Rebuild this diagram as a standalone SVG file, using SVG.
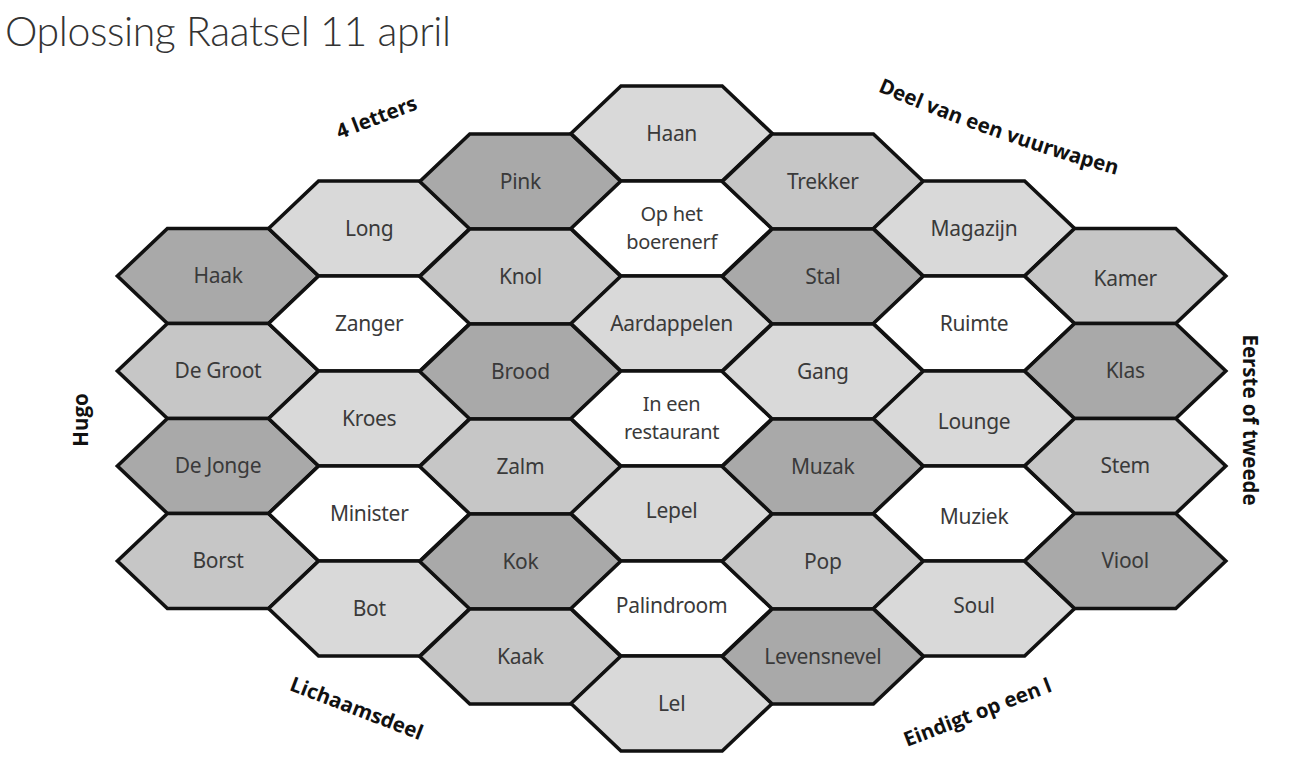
<svg xmlns="http://www.w3.org/2000/svg" width="1306" height="763" viewBox="0 0 1306 763">
<style>
.hex{stroke:#111;stroke-width:3.6;stroke-linejoin:miter}
.d{fill:#a9a9a9}
.m{fill:#c6c6c6}
.l{fill:#d9d9d9}
.w{fill:#ffffff}
.t{font-family:"Noto Sans","Open Sans",sans-serif;font-size:21px;fill:#3a3a3a;text-anchor:middle;letter-spacing:-0.3px}
.t2{font-size:20px}
.c{font-family:"Open Sans","Noto Sans",sans-serif;font-weight:bold;font-size:20.5px;fill:#111;text-anchor:middle}
.title{font-family:Lato,"Liberation Sans",sans-serif;font-weight:300;font-size:41px;fill:#333;letter-spacing:-0.4px}
</style>
<defs>
<polygon id="hx" points="-100.6,0 -50.6,-47.5 50.6,-47.5 100.6,0 50.6,47.5 -50.6,47.5"/>
<path id="arcTop" d="M 877 91 Q 990 140 1117 175"/>
</defs>
<rect width="1306" height="763" fill="#fff"/>
<text class="title" x="5" y="46">Oplossing Raatsel 11 april</text>

<!-- column 0 -->
<g id="haak" transform="translate(218,276)"><use href="#hx" class="hex d"/><text class="t" y="7">Haak</text></g>
<g id="degroot" transform="translate(218,371)"><use href="#hx" class="hex m"/><text class="t" y="7">De Groot</text></g>
<g id="dejonge" transform="translate(218,466)"><use href="#hx" class="hex d"/><text class="t" y="7">De Jonge</text></g>
<g id="borst" transform="translate(218,561)"><use href="#hx" class="hex m"/><text class="t" y="7">Borst</text></g>

<!-- column 1 -->
<g id="long" transform="translate(369.2,228.5)"><use href="#hx" class="hex l"/><text class="t" y="7">Long</text></g>
<g id="zanger" transform="translate(369.2,323.5)"><use href="#hx" class="hex w"/><text class="t" y="7">Zanger</text></g>
<g id="kroes" transform="translate(369.2,418.5)"><use href="#hx" class="hex l"/><text class="t" y="7">Kroes</text></g>
<g id="minister" transform="translate(369.2,513.5)"><use href="#hx" class="hex w"/><text class="t" y="7">Minister</text></g>
<g id="bot" transform="translate(369.2,608.5)"><use href="#hx" class="hex l"/><text class="t" y="7">Bot</text></g>

<!-- column 2 -->
<g id="pink" transform="translate(520.4,181.5)"><use href="#hx" class="hex d"/><text class="t" y="7">Pink</text></g>
<g id="knol" transform="translate(520.4,276.5)"><use href="#hx" class="hex m"/><text class="t" y="7">Knol</text></g>
<g id="brood" transform="translate(520.4,371.5)"><use href="#hx" class="hex d"/><text class="t" y="7">Brood</text></g>
<g id="zalm" transform="translate(520.4,466.5)"><use href="#hx" class="hex m"/><text class="t" y="7">Zalm</text></g>
<g id="kok" transform="translate(520.4,561.5)"><use href="#hx" class="hex d"/><text class="t" y="7">Kok</text></g>
<g id="kaak" transform="translate(520.4,656.5)"><use href="#hx" class="hex m"/><text class="t" y="7">Kaak</text></g>

<!-- column 3 -->
<g id="haan" transform="translate(671.6,133.5)"><use href="#hx" class="hex l"/><text class="t" y="7">Haan</text></g>
<g id="boerenerf" transform="translate(671.6,228.5)"><use href="#hx" class="hex w"/><text class="t t2" y="-7.5"><tspan x="0">Op het</tspan><tspan x="0" dy="27.5">boerenerf</tspan></text></g>
<g id="aardappelen" transform="translate(671.6,323.5)"><use href="#hx" class="hex l"/><text class="t" y="7">Aardappelen</text></g>
<g id="restaurant" transform="translate(671.6,418.5)"><use href="#hx" class="hex w"/><text class="t t2" y="-7.5"><tspan x="0">In een</tspan><tspan x="0" dy="27.5">restaurant</tspan></text></g>
<g id="lepel" transform="translate(671.6,513.5)"><use href="#hx" class="hex l"/><text class="t" y="4">Lepel</text></g>
<g id="palindroom" transform="translate(671.6,608.5)"><use href="#hx" class="hex w"/><text class="t" y="4">Palindroom</text></g>
<g id="lel" transform="translate(671.6,703.5)"><use href="#hx" class="hex l"/><text class="t" y="7">Lel</text></g>

<!-- column 4 -->
<g id="trekker" transform="translate(822.8,181.5)"><use href="#hx" class="hex m"/><text class="t" y="7">Trekker</text></g>
<g id="stal" transform="translate(822.8,276.5)"><use href="#hx" class="hex d"/><text class="t" y="7">Stal</text></g>
<g id="gang" transform="translate(822.8,371.5)"><use href="#hx" class="hex l"/><text class="t" y="7">Gang</text></g>
<g id="muzak" transform="translate(822.8,466.5)"><use href="#hx" class="hex d"/><text class="t" y="7">Muzak</text></g>
<g id="pop" transform="translate(822.8,561.5)"><use href="#hx" class="hex m"/><text class="t" y="7">Pop</text></g>
<g id="levensnevel" transform="translate(822.8,656.5)"><use href="#hx" class="hex d"/><text class="t" y="7">Levensnevel</text></g>

<!-- column 5 -->
<g id="magazijn" transform="translate(974,228.5)"><use href="#hx" class="hex l"/><text class="t" y="7">Magazijn</text></g>
<g id="ruimte" transform="translate(974,323.5)"><use href="#hx" class="hex w"/><text class="t" y="7">Ruimte</text></g>
<g id="lounge" transform="translate(974,418.5)"><use href="#hx" class="hex l"/><text class="t" y="10">Lounge</text></g>
<g id="muziek" transform="translate(974,513.5)"><use href="#hx" class="hex w"/><text class="t" y="10">Muziek</text></g>
<g id="soul" transform="translate(974,608.5)"><use href="#hx" class="hex l"/><text class="t" y="4">Soul</text></g>

<!-- column 6 -->
<g id="kamer" transform="translate(1125.2,276)"><use href="#hx" class="hex m"/><text class="t" y="10">Kamer</text></g>
<g id="klas" transform="translate(1125.2,371)"><use href="#hx" class="hex d"/><text class="t" y="7">Klas</text></g>
<g id="stem" transform="translate(1125.2,466)"><use href="#hx" class="hex m"/><text class="t" y="7">Stem</text></g>
<g id="viool" transform="translate(1125.2,561)"><use href="#hx" class="hex d"/><text class="t" y="7">Viool</text></g>

<g id="connectors"/>

<!-- category labels -->
<g id="labels">
<text class="c" transform="translate(379,124) rotate(-21)">4 letters</text>
<text class="c"><textPath href="#arcTop" startOffset="50%">Deel van een vuurwapen</textPath></text>
<text class="c" transform="translate(88,420) rotate(-90)">Hugo</text>
<text class="c" transform="translate(1243,420) rotate(90)">Eerste of tweede</text>
<text class="c" transform="translate(354,715) rotate(21)">Lichaamsdeel</text>
<text class="c" transform="translate(980,719) rotate(-21)">Eindigt op een l</text>
</g>
</svg>
